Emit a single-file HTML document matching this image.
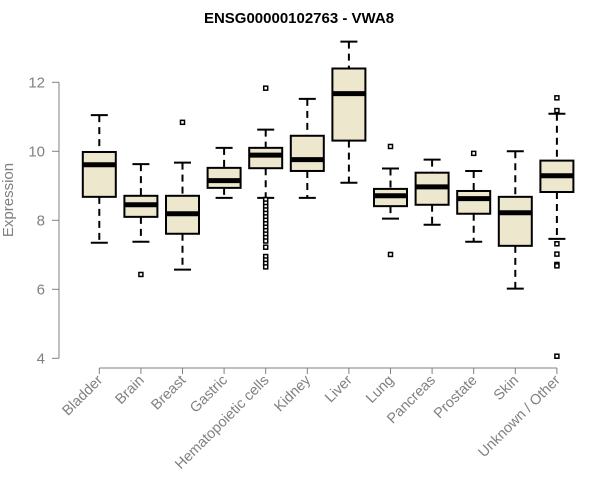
<!DOCTYPE html>
<html><head><meta charset="utf-8"><style>
body{margin:0;background:#fff}
svg{display:block;font-family:"Liberation Sans",Arial,sans-serif}
</style></head><body>
<svg id="chart" width="600" height="500" viewBox="0 0 600 500">
<text x="299" y="23" text-anchor="middle" font-weight="bold" font-size="15">ENSG00000102763 - VWA8</text>
<text transform="translate(13,200) rotate(-90)" text-anchor="middle" font-size="15" fill="#808080">Expression</text>
<g id="yaxis"></g>
<g id="xaxis"></g>
<g id="boxes"></g>
</svg>
<script>
const categories=["Bladder","Brain","Breast","Gastric","Hematopoietic cells","Kidney","Liver","Lung","Pancreas","Prostate","Skin","Unknown / Other"];
const whiskerLow=[7.35,7.38,6.57,8.65,8.65,8.65,9.09,8.05,7.87,7.38,6.02,7.46];
const q1=[8.68,8.10,7.61,8.94,9.51,9.43,10.31,8.41,8.45,8.19,7.26,8.82];
const medians=[9.61,8.45,8.19,9.15,9.89,9.76,11.67,8.71,8.97,8.63,8.22,9.29];
const q3=[9.98,8.71,8.71,9.52,10.10,10.45,12.40,8.91,9.38,8.85,8.68,9.73];
const whiskerHigh=[11.05,9.63,9.67,10.10,10.63,11.52,13.18,9.50,9.76,9.43,10.00,11.09];
const outliers=[[],[6.43],[10.84],[],[11.83,8.6,8.5,8.4,8.3,8.2,8.1,8.0,7.9,7.8,7.7,7.6,7.5,7.4,7.22,6.95,6.85,6.75,6.65],[],[],[10.14,7.01],[],[9.94],[],[11.55,11.18,7.32,7.02,6.72,6.68,4.06]];
const yTicks=[4,6,8,10,12];
const NS="http://www.w3.org/2000/svg";
function y(v){return 358.3-(v-4)*34.5;}
function x(i){return 99.3+i*41.6;}
function mk(tag,attrs,parent){const e=document.createElementNS(NS,tag);for(const k in attrs)e.setAttribute(k,attrs[k]);parent.appendChild(e);return e;}
const ya=document.getElementById('yaxis'),xa=document.getElementById('xaxis'),bx=document.getElementById('boxes');
let l=mk('line',{x1:59,x2:59,y1:y(12),y2:y(4),stroke:'#808080','stroke-width':1},ya);


yTicks.forEach(t=>{
 const tk=mk('line',{x1:52,x2:59,y1:y(t),y2:y(t),stroke:'#808080'},ya);
 
 
 const tx=mk('text',{x:45,y:y(t)+5,'text-anchor':'end','font-size':15,fill:'#808080'},ya);
 tx.textContent=t;
 
 
});
const xl=mk('line',{x1:x(0),x2:x(categories.length-1),y1:368,y2:368,stroke:'#808080'},xa);


categories.forEach((c,i)=>{
 const tk=mk('line',{x1:x(i),x2:x(i),y1:368,y2:374,stroke:'#808080'},xa);
 
 
 const tx=mk('text',{transform:`translate(${x(i)+4},381) rotate(-45)`,'text-anchor':'end','font-size':14.5,fill:'#808080'},xa);
 tx.textContent=c;
 
 
 const g=mk('g',{},bx);
 
 
 const cx=x(i),hw=16.5,cw=8.5;
 mk('line',{x1:cx,x2:cx,y1:y(whiskerHigh[i]),y2:y(q3[i]),stroke:'#000','stroke-width':2,'stroke-dasharray':'7,5'},g);
 mk('line',{x1:cx,x2:cx,y1:y(q1[i]),y2:y(whiskerLow[i]),stroke:'#000','stroke-width':2,'stroke-dasharray':'7,5'},g);
 mk('line',{x1:cx-cw,x2:cx+cw,y1:y(whiskerHigh[i]),y2:y(whiskerHigh[i]),stroke:'#000','stroke-width':2},g);
 mk('line',{x1:cx-cw,x2:cx+cw,y1:y(whiskerLow[i]),y2:y(whiskerLow[i]),stroke:'#000','stroke-width':2},g);
 mk('rect',{x:cx-hw,y:y(q3[i]),width:hw*2,height:y(q1[i])-y(q3[i]),fill:'#ede7cd',stroke:'#000','stroke-width':2},g);
 mk('line',{x1:cx-hw,x2:cx+hw,y1:y(medians[i]),y2:y(medians[i]),stroke:'#000','stroke-width':5},g);
 outliers[i].forEach(o=>{
  const p=mk('rect',{x:cx-2,y:y(o)-2,width:4,height:4,fill:'#fff',stroke:'#000','stroke-width':1.5},g);
  
  
 });
});
</script>
</body></html>
